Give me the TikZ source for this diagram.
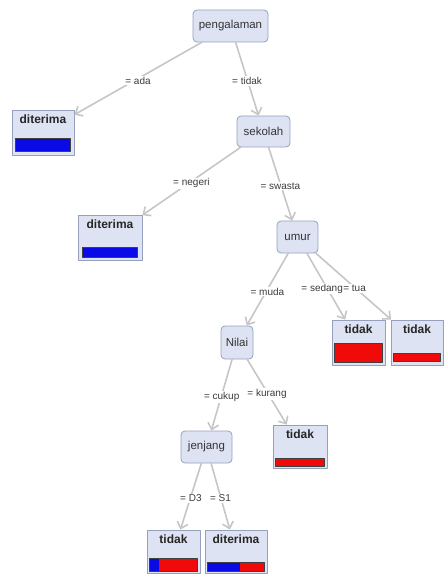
\documentclass[tikz,border=0pt]{standalone}
\usepackage{fontspec}
\setmainfont{Liberation Sans}
\usetikzlibrary{arrows.meta}
\definecolor{nodefill}{RGB}{222,227,244}
\definecolor{nodeline}{RGB}{150,160,190}
\definecolor{edgegray}{RGB}{198,198,198}
\definecolor{labtext}{RGB}{60,60,60}
\definecolor{barblue}{RGB}{10,10,230}
\definecolor{barred}{RGB}{240,10,10}
\begin{document}
\begin{tikzpicture}[x=1pt, y=-1pt, line join=round, line cap=round,
	>={Straight Barb[length=6pt,width=11pt,line width=1.6pt]},
	inner/.style={draw=nodeline, fill=nodefill, rounded corners=4pt, line width=0.8pt, inner sep=0pt, text=black!80, font=\fontsize{11.5}{13}\selectfont},
	leaf/.style={draw=nodeline, fill=nodefill, line width=0.8pt, inner sep=0pt},
	leaftext/.style={anchor=north, text=black!85, font=\fontsize{12}{14}\selectfont\bfseries},
	edge/.style={draw=edgegray, line width=1.6pt, ->},
	lab/.style={fill=white, inner sep=1pt, yshift=-2pt, text=labtext, font=\fontsize{10}{12}\selectfont},
	bar/.style={draw=black!75, line width=0.6pt}]
	\useasboundingbox (0,0) rectangle (444,577);
	% Knoten
	\node[inner, minimum width=75, minimum height=32] (pengalaman) at (230.5,26) {pengalaman};
	\node[inner, minimum width=53, minimum height=31] (sekolah) at (263.5,131.5) {sekolah};
	\node[inner, minimum width=41, minimum height=32] (umur) at (297.5,237) {umur};
	\node[inner, minimum width=32, minimum height=33] (nilai) at (237,342.5) {Nilai};
	\node[inner, minimum width=51, minimum height=32] (jenjang) at (206.5,447) {jenjang};
	% Daun
	\node[leaf, minimum width=62, minimum height=45] (ya1) at (43,132.5) {};
	\node[leaf, minimum width=64, minimum height=45] (ya2) at (110,237.5) {};
	\node[leaf, minimum width=53, minimum height=45] (tidak1) at (358.5,342.5) {};
	\node[leaf, minimum width=52, minimum height=45] (tidak2) at (417,342.5) {};
	\node[leaf, minimum width=54, minimum height=43] (tidak3) at (300,446.5) {};
	\node[leaf, minimum width=53, minimum height=43] (tidak4) at (173.5,551.5) {};
	\node[leaf, minimum width=62, minimum height=43] (ya3) at (236,551.5) {};
	\node[leaftext] (ya1t) at ([yshift=-2pt]ya1.north) {diterima};
	\node[leaftext] (ya2t) at ([yshift=-2pt]ya2.north) {diterima};
	\node[leaftext] (tidak1t) at ([yshift=-2pt]tidak1.north) {tidak};
	\node[leaftext] (tidak2t) at ([yshift=-2pt]tidak2.north) {tidak};
	\node[leaftext] (tidak3t) at ([yshift=-2pt]tidak3.north) {tidak};
	\node[leaftext] (tidak4t) at ([yshift=-2pt]tidak4.north) {tidak};
	\node[leaftext] (ya3t) at ([yshift=-2pt]ya3.north) {diterima};
	% Balken
	\filldraw[bar, fill=barblue] ([xshift=4pt,yshift=4pt]ya1.south west) rectangle ([xshift=-4pt,yshift=17pt]ya1.south east);
	\filldraw[bar, fill=barblue] ([xshift=5pt,yshift=3pt]ya2.south west) rectangle ([xshift=-5pt,yshift=13pt]ya2.south east);
	\filldraw[bar, fill=barred] ([xshift=3pt,yshift=3pt]tidak1.south west) rectangle ([xshift=-3pt,yshift=22pt]tidak1.south east);
	\filldraw[bar, fill=barred] ([xshift=3pt,yshift=4pt]tidak2.south west) rectangle ([xshift=-3pt,yshift=12pt]tidak2.south east);
	\filldraw[bar, fill=barred] ([xshift=3pt,yshift=2pt]tidak3.south west) rectangle ([xshift=-3pt,yshift=10pt]tidak3.south east);
	\fill[barblue] ([xshift=3pt,yshift=2pt]tidak4.south west) rectangle ([xshift=12pt,yshift=15pt]tidak4.south west);
	\fill[barred] ([xshift=12pt,yshift=2pt]tidak4.south west) rectangle ([xshift=-3pt,yshift=15pt]tidak4.south east);
	\draw[bar] ([xshift=3pt,yshift=2pt]tidak4.south west) rectangle ([xshift=-3pt,yshift=15pt]tidak4.south east);
	\fill[barblue] ([xshift=3pt,yshift=2pt]ya3.south west) rectangle ([xshift=35pt,yshift=11pt]ya3.south west);
	\fill[barred] ([xshift=35pt,yshift=2pt]ya3.south west) rectangle ([xshift=-3pt,yshift=11pt]ya3.south east);
	\draw[bar] ([xshift=3pt,yshift=2pt]ya3.south west) rectangle ([xshift=-3pt,yshift=11pt]ya3.south east);
	% Cabang
	\draw[edge] (pengalaman) -- node[lab] (ada) {= ada} (ya1);
	\draw[edge] (pengalaman) -- node[lab] (tdk) {= tidak} (sekolah);
	\draw[edge] (sekolah) -- node[lab] (negeri) {= negeri} (ya2);
	\draw[edge] (sekolah) -- node[lab] (swasta) {= swasta} (umur);
	\draw[edge] (umur) -- node[lab] (muda) {= muda} (nilai);
	\draw[edge] (umur) -- node[lab, xshift=-4pt, inner xsep=0pt] (sedang) {= sedang} (tidak1);
	\draw[edge] (umur) -- node[lab, xshift=1pt, inner xsep=0pt] (tua) {= tua} (tidak2);
	\draw[edge] (nilai) -- node[lab] (cukup) {= cukup} (jenjang);
	\draw[edge] (nilai) -- node[lab] (kurang) {= kurang} (tidak3);
	\draw[edge] (jenjang) -- node[lab] (dtiga) {= D3} (tidak4);
	\draw[edge] (jenjang) -- node[lab] (ssatu) {= S1} (ya3);
\end{tikzpicture}
\end{document}
